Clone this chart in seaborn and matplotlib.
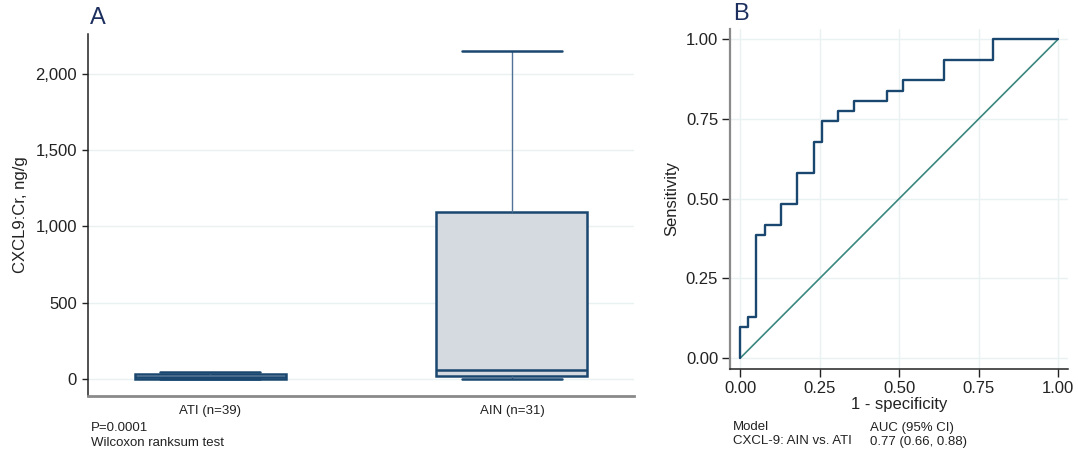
import numpy as np
import pandas as pd
import matplotlib
matplotlib.use("Agg")
import matplotlib.pyplot as plt
import matplotlib.ticker as mticker
import seaborn as sns

sns.set_theme(style="white")
plt.rcParams['font.family'] = ['Liberation Sans', 'DejaVu Sans']

# ---------------- data ----------------
groups = ["ATI (n=39)", "AIN (n=31)"]
# five-number summaries: min, Q1, median, Q3, max
ati_summary = [0, 3, 12, 31, 44]
ain_summary = [2, 22, 59, 1096, 2151]
y_ticks = [0, 500, 1000, 1500, 2000]

# ROC curve vertices (1 - specificity, sensitivity)
roc_fpr = [0.000, 0.000, 0.026, 0.026, 0.051, 0.051, 0.077, 0.077, 0.128, 0.128,
           0.179, 0.179, 0.231, 0.231, 0.256, 0.256, 0.308, 0.308, 0.359, 0.359,
           0.462, 0.462, 0.513, 0.513, 0.641, 0.641, 0.795, 0.795, 1.000]
roc_tpr = [0.000, 0.097, 0.097, 0.129, 0.129, 0.387, 0.387, 0.419, 0.419, 0.484,
           0.484, 0.581, 0.581, 0.677, 0.677, 0.742, 0.742, 0.774, 0.774, 0.806,
           0.806, 0.839, 0.839, 0.871, 0.871, 0.935, 0.935, 1.000, 1.000]
ref_line = [0.0, 1.0]
roc_ticks = [0.00, 0.25, 0.50, 0.75, 1.00]

NAVY = "#1a476f"
GRID = "#eaf1f3"
TEAL = "#3a877f"

W, H = 1078, 459
fig = plt.figure(figsize=(W / 100, H / 100), dpi=100)

def ax_rect(l, t, r, b):
    return [l / W, (H - b) / H, (r - l) / W, (b - t) / H]

# ---------------- Panel A ----------------
axA = fig.add_axes(ax_rect(88, 34, 634, 396))
df = pd.DataFrame({
    "group": [groups[0]] * len(ati_summary) + [groups[1]] * len(ain_summary),
    "value": ati_summary + ain_summary,
})
sns.boxplot(data=df, x="group", y="value", order=groups, ax=axA,
            whis=(0, 100), width=0.5, color="#d3dae3", linecolor=NAVY,
            linewidth=1.8, showfliers=False,
            whiskerprops=dict(linewidth=1.0, color="#4f7296"),
            capprops=dict(linewidth=1.8, color=NAVY),
            medianprops=dict(linewidth=1.8, color=NAVY))
axA.set_xlim(-0.404, 1.404)
axA.set_ylim(-111, 2261)
axA.set_yticks(y_ticks)
axA.yaxis.set_major_formatter(mticker.FuncFormatter(lambda v, p: f"{int(v):,}"))
axA.grid(axis="y", color=GRID, linewidth=1.0)
axA.set_axisbelow(True)
axA.set_xlabel("")
axA.set_ylabel("CXCL9:Cr, ng/g", fontsize=12, color="#222222")
axA.yaxis.set_label_coords(-0.109, 0.5)
axA.tick_params(axis="y", length=4.5, width=1.0, color="#222222", pad=3.5,
                labelsize=12, labelcolor="#222222", left=True)
axA.tick_params(axis="x", length=0, pad=6.5, labelsize=9.5, labelcolor="#222222")
for s in ["top", "right"]:
    axA.spines[s].set_visible(False)
axA.spines["left"].set_color("#222222")
axA.spines["left"].set_linewidth(1.1)
axA.spines["bottom"].set_color("#8a8a8a")
axA.spines["bottom"].set_linewidth(2.0)

# Panel A caps: make them 2/3 of the box width
for line in axA.lines:
    xd = np.asarray(line.get_xdata(), dtype=float)
    yd = np.asarray(line.get_ydata(), dtype=float)
    if len(xd) == 2 and yd[0] == yd[1] and xd[0] != xd[1]:
        c = xd.mean()
        half = xd[1] - xd[0]
        # caps are narrower than box; detect by comparing to box width 0.5
        if abs(abs(half) - 0.5) > 1e-6:
            line.set_xdata([c - 0.165, c + 0.165])

fig.text(91, H - 428, "P=0.0001", transform=None, fontsize=9.5, color="#222222",
         va="center", ha="left")
fig.text(91, H - 442.5, "Wilcoxon ranksum test", transform=None, fontsize=9.5,
         color="#222222", va="center", ha="left")
fig.text(90, H - 18.5, "A", transform=None, fontsize=17, color="#1c2f5e",
         va="center", ha="left")

# ---------------- Panel B ----------------
axB = fig.add_axes(ax_rect(730, 29, 1068, 369))
sns.lineplot(x=ref_line, y=ref_line, ax=axB, color=TEAL, linewidth=1.2,
             estimator=None, sort=False)
sns.lineplot(x=roc_fpr, y=roc_tpr, ax=axB, color=NAVY, linewidth=1.7,
             estimator=None, sort=False)
axB.set_xlim(-0.032, 1.031)
axB.set_ylim(-0.034, 1.032)
axB.set_xticks(roc_ticks)
axB.set_yticks(roc_ticks)
axB.xaxis.set_major_formatter(mticker.FormatStrFormatter("%.2f"))
axB.yaxis.set_major_formatter(mticker.FormatStrFormatter("%.2f"))
axB.grid(True, color=GRID, linewidth=1.0)
axB.set_axisbelow(True)
axB.set_xlabel("1 - specificity", fontsize=12, color="#222222")
axB.set_ylabel("Sensitivity", fontsize=12, color="#222222")
axB.xaxis.set_label_coords(0.5, -0.082)
axB.yaxis.set_label_coords(-0.151, 0.5)
axB.tick_params(axis="both", length=5.5, width=1.0, color="#222222", pad=3,
                labelsize=12, labelcolor="#222222", left=True, bottom=True)
for s in ["top", "right"]:
    axB.spines[s].set_visible(False)
axB.spines["left"].set_color("#8a8a8a")
axB.spines["left"].set_linewidth(1.6)
axB.spines["bottom"].set_color("#222222")
axB.spines["bottom"].set_linewidth(1.1)

fig.text(733, H - 427.5, "Model", transform=None, fontsize=9.5, color="#222222",
         va="center", ha="left")
fig.text(733, H - 441.5, "CXCL-9: AIN vs. ATI", transform=None, fontsize=9.5,
         color="#222222", va="center", ha="left")
fig.text(870, H - 427.5, "AUC (95% CI)", transform=None, fontsize=9.5,
         color="#222222", va="center", ha="left")
fig.text(870, H - 441.5, "0.77 (0.66, 0.88)", transform=None, fontsize=9.5,
         color="#222222", va="center", ha="left")
fig.text(733, H - 13.5, "B", transform=None, fontsize=17, color="#1c2f5e",
         va="center", ha="left")

fig.savefig("out.png", dpi=100, facecolor="white")
